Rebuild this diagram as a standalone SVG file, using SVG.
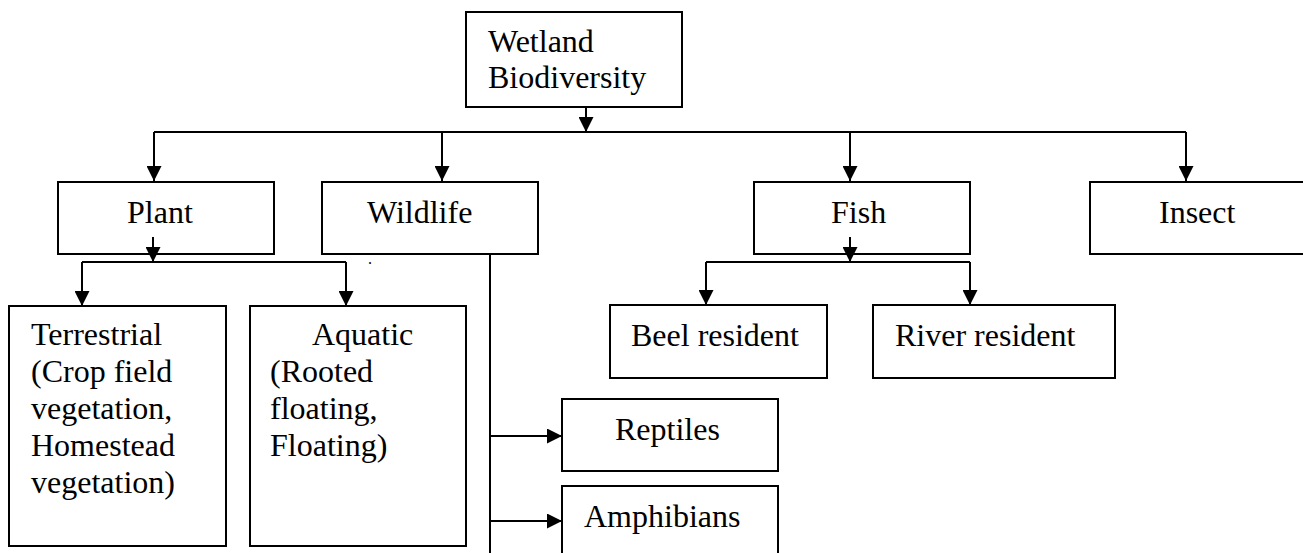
<svg xmlns="http://www.w3.org/2000/svg" width="1303" height="553" viewBox="0 0 1303 553">
<defs>
<style>
.box{fill:#fff;stroke:#000;stroke-width:2}
.ln{fill:none;stroke:#000;stroke-width:2}
text{font-family:"Liberation Serif","Times New Roman",serif;font-size:32px;fill:#000}
</style>
<marker id="ah" viewBox="0 0 16 16" refX="16" refY="8" markerWidth="16" markerHeight="15" markerUnits="userSpaceOnUse" orient="auto">
<path d="M0,0 L16,8 L0,16 Z" fill="#000"/>
</marker>
</defs>
<rect width="1303" height="553" fill="#fff"/>
<g id="root"><rect class="box" x="466" y="12" width="216" height="95"/><text x="488" y="52">Wetland</text><text x="488" y="88">Biodiversity</text></g>
<g id="plant"><rect class="box" x="58" y="182" width="216" height="72"/><text x="127" y="223">Plant</text></g>
<g id="wildlife"><rect class="box" x="322" y="182" width="216" height="72"/><text x="367" y="223">Wildlife</text></g>
<g id="fish"><rect class="box" x="754" y="182" width="216" height="72"/><text x="831" y="223">Fish</text></g>
<g id="insect"><rect class="box" x="1090" y="182" width="230" height="72"/><text x="1159" y="223">Insect</text></g>
<g id="terrestrial"><rect class="box" x="9" y="306" width="217" height="240"/><text x="31" y="345">Terrestrial</text><text x="31" y="382">(Crop field</text><text x="31" y="419">vegetation,</text><text x="31" y="456">Homestead</text><text x="31" y="493">vegetation)</text></g>
<g id="aquatic"><rect class="box" x="250" y="306" width="216" height="240"/><text x="312" y="345">Aquatic</text><text x="270" y="382">(Rooted</text><text x="270" y="419">floating,</text><text x="270" y="456">Floating)</text></g>
<g id="beel"><rect class="box" x="610" y="305" width="217" height="73"/><text x="631" y="346">Beel resident</text></g>
<g id="river"><rect class="box" x="873" y="305" width="242" height="73"/><text x="895" y="346">River resident</text></g>
<g id="reptiles"><rect class="box" x="562" y="399" width="216" height="72"/><text x="615" y="440">Reptiles</text></g>
<g id="amphibians"><rect class="box" x="562" y="486" width="216" height="80"/><text x="584" y="527">Amphibians</text></g>
<text x="368" y="264" style="font-size:16px">.</text>
<g id="connectors">
<path class="ln" d="M586,107 V132" marker-end="url(#ah)"/>
<path class="ln" d="M154,132 H1186"/>
<path class="ln" d="M154,132 V181" marker-end="url(#ah)"/>
<path class="ln" d="M442,132 V181" marker-end="url(#ah)"/>
<path class="ln" d="M850,132 V181" marker-end="url(#ah)"/>
<path class="ln" d="M1186,132 V181" marker-end="url(#ah)"/>
<path class="ln" d="M153,237 V262" marker-end="url(#ah)"/>
<path class="ln" d="M82,262 H346"/>
<path class="ln" d="M82,262 V306" marker-end="url(#ah)"/>
<path class="ln" d="M346,262 V306" marker-end="url(#ah)"/>
<path class="ln" d="M850,237 V262" marker-end="url(#ah)"/>
<path class="ln" d="M706,262 H970"/>
<path class="ln" d="M706,262 V305" marker-end="url(#ah)"/>
<path class="ln" d="M970,262 V305" marker-end="url(#ah)"/>
<path class="ln" d="M490,254 V553"/>
<path class="ln" d="M490,436 H562" marker-end="url(#ah)"/>
<path class="ln" d="M490,521 H562" marker-end="url(#ah)"/>
</g>
</svg>
